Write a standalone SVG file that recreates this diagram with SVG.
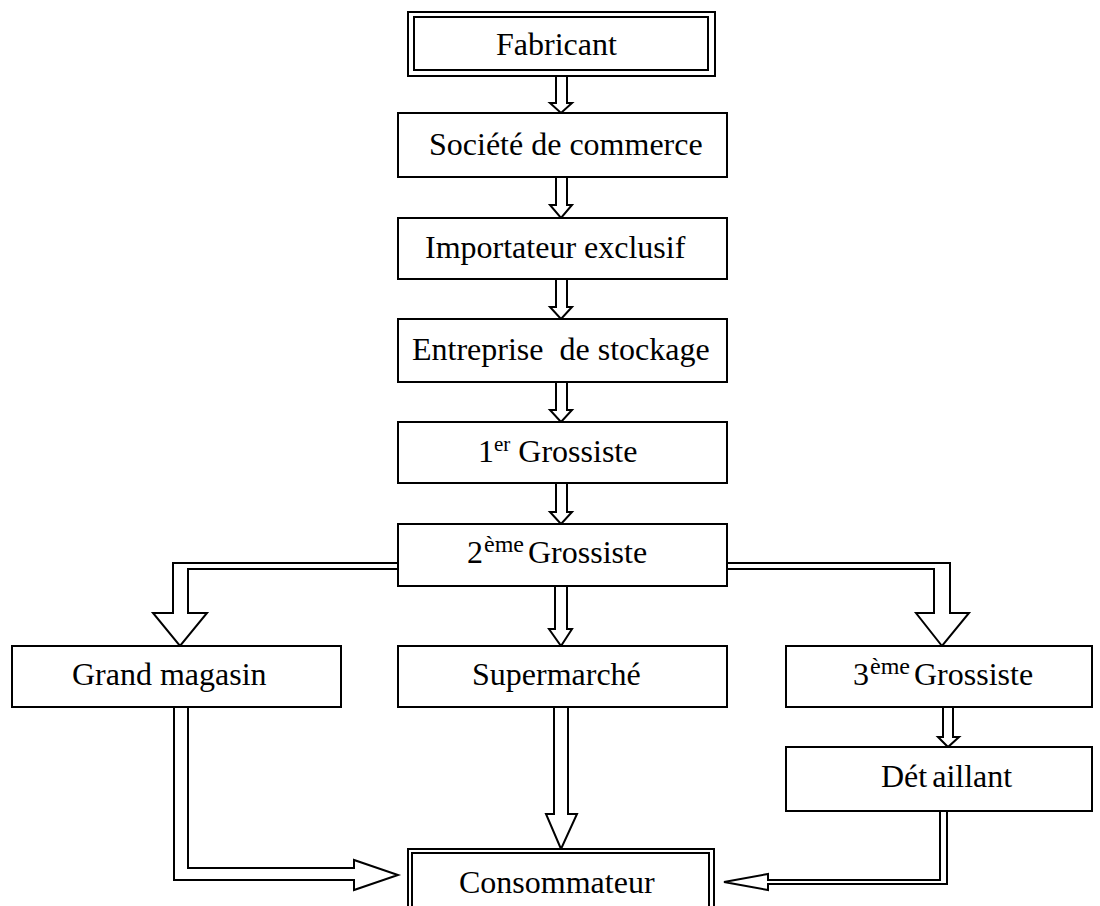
<svg xmlns="http://www.w3.org/2000/svg" width="1100" height="906" viewBox="0 0 1100 906">
<style>
rect{fill:#fff;stroke:#000;stroke-width:2}
.c polygon{fill:#fff;stroke:#000;stroke-width:2;stroke-linejoin:miter}
text{font-family:"Liberation Serif","Times New Roman",serif;font-size:32px;fill:#000;white-space:pre}
.sup{font-size:21px}
.sup2{font-size:24px}
</style>
<rect x="0" y="0" width="1100" height="906" style="stroke:none"/>
<g class="c" id="connectors">
<polygon points="556,76 556,103 550,103 561,113 572,103 567,103 567,76"/>
<polygon points="556,177 556,205 550,205 561,218 572,205 567,205 567,177"/>
<polygon points="556,279 556,307 550,307 561,319 572,307 567,307 567,279"/>
<polygon points="556,382 556,410 550,410 561,422 572,410 567,410 567,382"/>
<polygon points="556,483 556,512 550,512 561,524 572,512 567,512 567,483"/>
<polygon points="555,586 555,629 549,629 561,646 572,629 567,629 567,586"/>
<polygon points="398,563 173,563 173,613 153,613 180,646 207,613 188,613 188,569 398,569"/>
<polygon points="727,563 950,563 950,613 969,613 942,646 916,613 934,613 934,569 727,569"/>
<polygon points="943,707 943,737 938,737 948,747 959,737 953,737 953,707"/>
<polygon points="174,707 174,880 354,880 354,890 398,875 354,860 354,868 188,868 188,707"/>
<polygon points="554,707 554,814 546,814 561,849 577,814 568,814 568,707"/>
<polygon points="940,811 940,880 768,880 768,874 724,882 768,890 768,884 947,884 947,811"/>
</g>
<g id="fabricant">
<rect x="408" y="12" width="307" height="64"/>
<rect x="414" y="17" width="294" height="53"/>
<text x="496" y="55">Fabricant</text>
</g>
<g id="societe">
<rect x="398" y="113" width="329" height="64"/>
<text x="429" y="155">Société de commerce</text>
</g>
<g id="importateur">
<rect x="398" y="218" width="329" height="61"/>
<text x="425" y="258">Importateur exclusif</text>
</g>
<g id="entreprise">
<rect x="398" y="319" width="329" height="63"/>
<text x="412" y="360">Entreprise  de stockage</text>
</g>
<g id="grossiste1">
<rect x="398" y="422" width="329" height="61"/>
<text x="478" y="462">1<tspan class="sup" dy="-11">er</tspan><tspan dy="11"> Grossiste</tspan></text>
</g>
<g id="grossiste2">
<rect x="398" y="524" width="329" height="62"/>
<text x="467" y="563">2<tspan class="sup2" dy="-11" x="484">ème</tspan><tspan dy="11" x="528">Grossiste</tspan></text>
</g>
<g id="grand-magasin">
<rect x="12" y="646" width="329" height="61"/>
<text x="72" y="685">Grand magasin</text>
</g>
<g id="supermarche">
<rect x="398" y="646" width="329" height="61"/>
<text x="472" y="685">Supermarché</text>
</g>
<g id="grossiste3">
<rect x="786" y="646" width="306" height="61"/>
<text x="853" y="685">3<tspan class="sup2" dy="-11" x="870">ème</tspan><tspan dy="11" x="914">Grossiste</tspan></text>
</g>
<g id="detaillant">
<rect x="786" y="747" width="306" height="64"/>
<text x="881" y="787">Dét<tspan dx="5">aillant</tspan></text>
</g>
<g id="consommateur">
<rect x="408" y="849" width="306" height="80"/>
<rect x="412" y="853" width="297" height="80"/>
<text x="459" y="893">Consommateur</text>
</g>
</svg>
